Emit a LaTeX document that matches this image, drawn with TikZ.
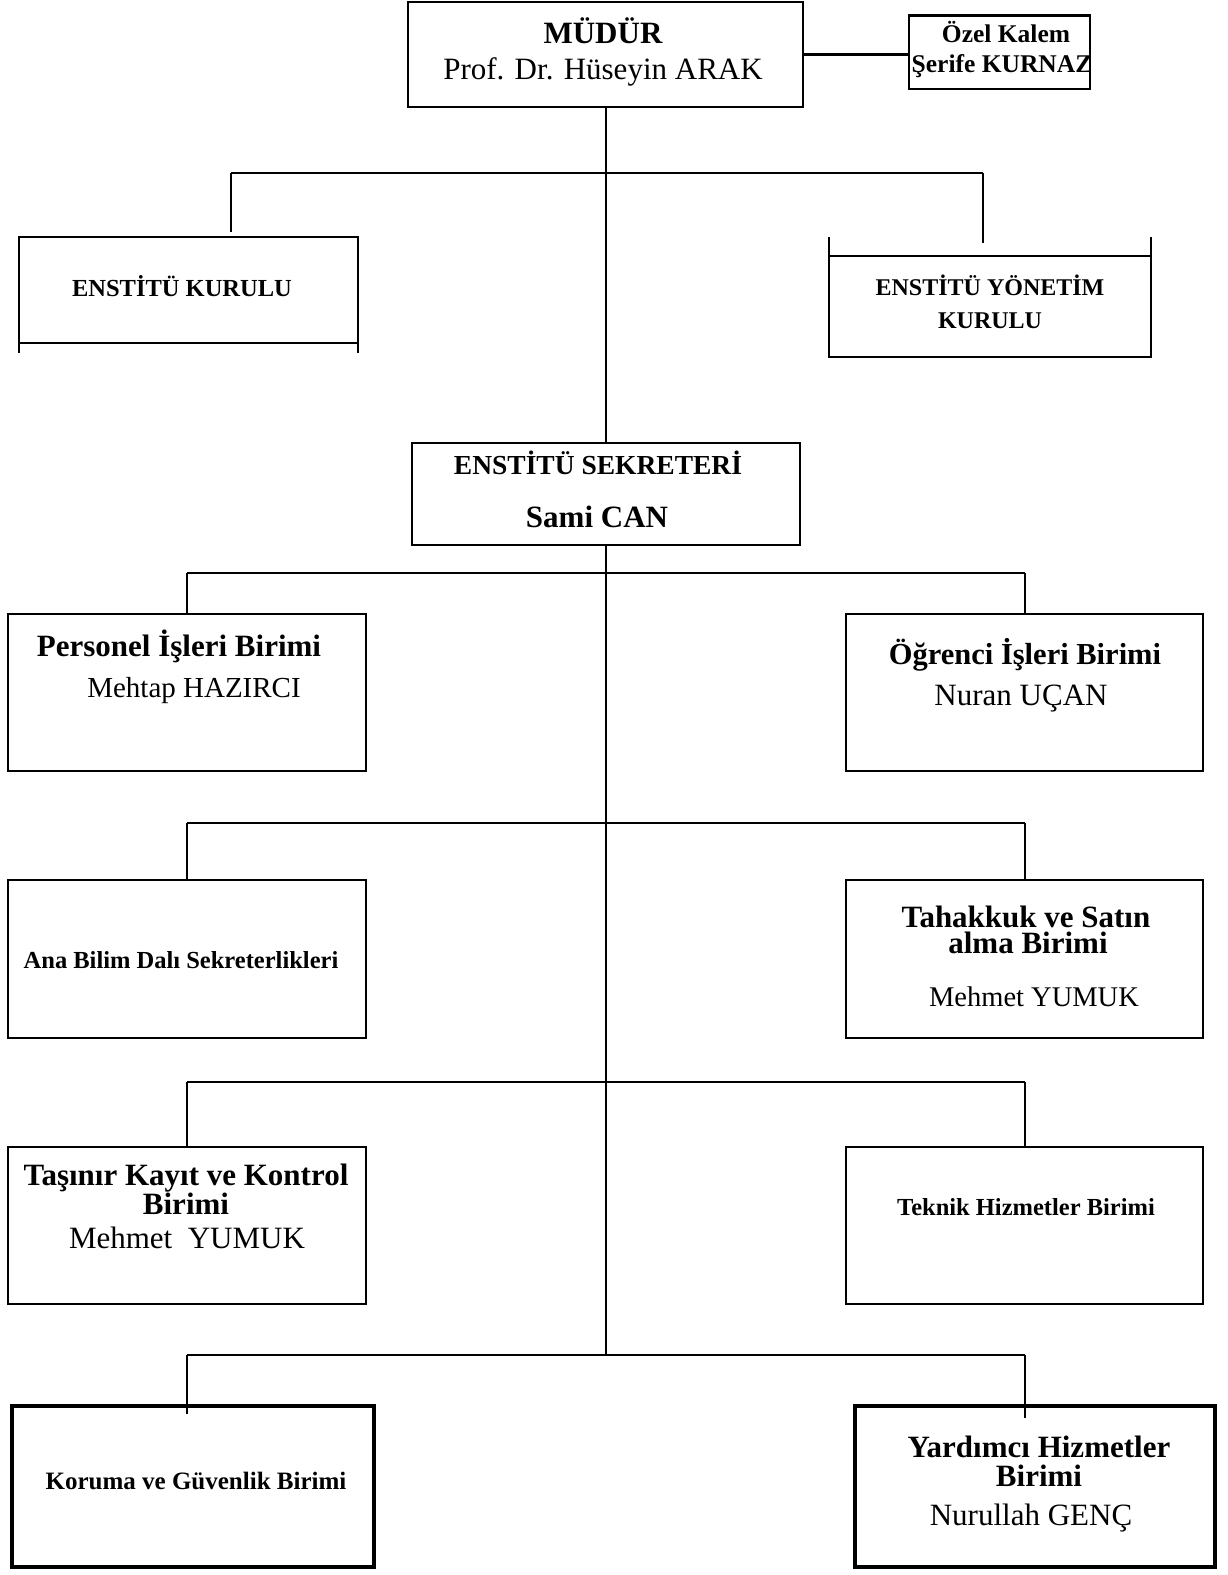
\documentclass[tikz,border=0pt]{standalone}
\usepackage{fontspec}
\setmainfont{Liberation Serif}
\begin{document}
\begin{tikzpicture}[x=1pt,y=-1pt,
  box/.style={draw, line width=1.8pt, inner sep=0pt, outer sep=0pt},
  thickbox/.style={draw, line width=3.5pt, inner sep=0pt, outer sep=0pt},
  conn/.style={line width=2.8pt},
  tb/.style={anchor=base, inner sep=0pt, font=\fontsize{#1}{#1}\selectfont\bfseries},
  tr/.style={anchor=base, inner sep=0pt, font=\fontsize{#1}{#1}\selectfont}]
\useasboundingbox (0,0) rectangle (1227,1575);
% boxes
\node[box, minimum width=395pt, minimum height=105pt] (mudur) at (605.5,54.5) {};
\node[box, minimum width=181pt, minimum height=74pt] (ozel) at (999.5,52) {};
\node[box, minimum width=339pt, minimum height=106pt] (kurulu) at (188.5,290) {};
\node[box, minimum width=322pt, minimum height=101pt] (yonetim) at (990,306.5) {};
\node[box, minimum width=388pt, minimum height=102pt] (sekreter) at (606,494) {};
\node[box, minimum width=358pt, minimum height=157pt] (personel) at (187,692.5) {};
\node[box, minimum width=357pt, minimum height=157pt] (ogrenci) at (1024.5,692.5) {};
\node[box, minimum width=358pt, minimum height=158pt] (anabilim) at (187,959) {};
\node[box, minimum width=357pt, minimum height=158pt] (tahakkuk) at (1024.5,959) {};
\node[box, minimum width=358pt, minimum height=157pt] (tasinir) at (187,1225.5) {};
\node[box, minimum width=357pt, minimum height=157pt] (teknik) at (1024.5,1225.5) {};
\node[thickbox, minimum width=362pt, minimum height=161pt] (koruma) at (193,1486.5) {};
\node[thickbox, minimum width=360pt, minimum height=161pt] (yardimci) at (1035,1486.5) {};
% extra side stubs of the two council boxes and top line of Ozel Kalem
\draw[line width=1.8pt] (kurulu.south west) -- ++(0,10);
\draw[line width=1.8pt] (kurulu.south east) -- ++(0,10);
\draw[line width=1.8pt] (yonetim.north west) -- ++(0,-19);
\draw[line width=1.8pt] (yonetim.north east) -- ++(0,-19);
\draw[line width=3pt] (ozel.north west) -- (ozel.north east);
% texts
\node[tb=31] (t1) at (603,43) {MÜDÜR};
\node[tr=31] (t2) at (603,79) {Prof. Dr. Hüseyin ARAK};
\node[tb=25.5] (t3) at (1006,42) {Özel Kalem};
\node[tb=25.5] (t4) at (1002,72) {Şerife KURNAZ};
\node[tb=24.5] (t5) at (182,296) {ENSTİTÜ KURULU};
\node[tb=24] (t6) at (990,295) {ENSTİTÜ YÖNETİM};
\node[tb=24] (t7) at (990,328) {KURULU};
\node[tb=27.5] (t8) at (598,474) {ENSTİTÜ SEKRETERİ};
\node[tb=31] (t9) at (597,527) {Sami CAN};
\node[tb=31] (t10) at (179,656) {Personel İşleri Birimi};
\node[tr=29] (t11) at (194,697) {Mehtap HAZIRCI};
\node[tb=30.5] (t12) at (1025,664) {Öğrenci İşleri Birimi};
\node[tr=31] (t13) at (1021,705) {Nuran UÇAN};
\node[tb=24.5] (t14) at (181,968) {Ana Bilim Dalı Sekreterlikleri};
\node[tb=31] (t15) at (1026,927) {Tahakkuk ve Satın};
\node[tb=31] (t16) at (1028,953) {alma Birimi};
\node[tr=28.5] (t17) at (1034,1006) {Mehmet YUMUK};
\node[tb=31] (t18) at (186,1185) {Taşınır Kayıt ve Kontrol};
\node[tb=31] (t19) at (186,1214) {Birimi};
\node[tr=31] (t20) at (187,1248) {Mehmet\ \ YUMUK};
\node[tb=24.5] (t21) at (1026,1215) {Teknik Hizmetler Birimi};
\node[tb=25] (t22) at (196,1489) {Koruma ve Güvenlik Birimi};
\node[tb=31] (t23) at (1039,1457) {Yardımcı Hizmetler};
\node[tb=31] (t24) at (1039,1486) {Birimi};
\node[tr=31] (t25) at (1031,1525) {Nurullah GENÇ};
% junction coordinates
\coordinate (j0) at (606,173);
\coordinate (j0l) at (231,173);
\coordinate (j0r) at (983,173);
\coordinate (d0l) at (231,232);
\coordinate (d0r) at (983,243);
\coordinate (j1) at (606,573);
\coordinate (j1l) at (187,573);
\coordinate (j1r) at (1025,573);
\coordinate (j2) at (606,823);
\coordinate (j2l) at (187,823);
\coordinate (j2r) at (1025,823);
\coordinate (j3) at (606,1082);
\coordinate (j3l) at (187,1082);
\coordinate (j3r) at (1025,1082);
\coordinate (j4) at (606,1355);
\coordinate (j4l) at (187,1355);
\coordinate (j4r) at (1025,1355);
\coordinate (d4l) at (187,1414);
\coordinate (d4r) at (1025,1418);
% connectors
\draw[conn] (mudur.east) -- (mudur.east -| ozel.west);
\draw[conn] (mudur.south -| sekreter.north) -- (sekreter.north);
\draw[conn] (j0l) -- (j0r);
\draw[conn] (j0l) -- (d0l);
\draw[conn] (j0r) -- (d0r);
\draw[conn] (sekreter.south) -- (j4);
\draw[conn] (j1l) -- (j1r);
\draw[conn] (j1l) -- (j1l |- personel.north);
\draw[conn] (j1r) -- (j1r |- ogrenci.north);
\draw[conn] (j2l) -- (j2r);
\draw[conn] (j2l) -- (j2l |- anabilim.north);
\draw[conn] (j2r) -- (j2r |- tahakkuk.north);
\draw[conn] (j3l) -- (j3r);
\draw[conn] (j3l) -- (j3l |- tasinir.north);
\draw[conn] (j3r) -- (j3r |- teknik.north);
\draw[conn] (j4l) -- (j4r);
\draw[conn] (j4l) -- (d4l);
\draw[conn] (j4r) -- (d4r);
\end{tikzpicture}
\end{document}
